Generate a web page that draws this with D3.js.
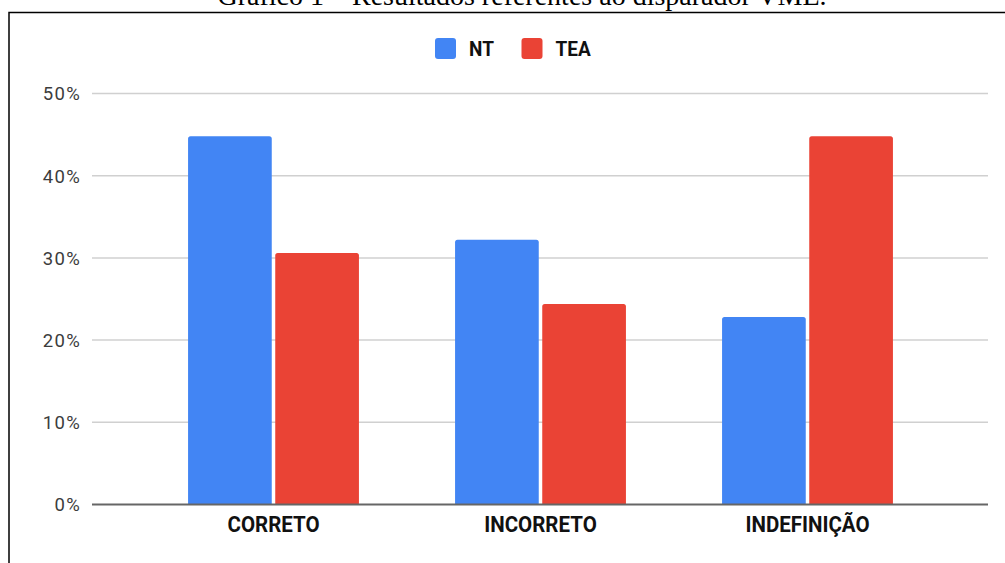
<!DOCTYPE html>
<html>
<head>
<meta charset="utf-8">
<script src="https://cdn.jsdelivr.net/npm/d3@7"></script>
<style>
  html, body { margin: 0; padding: 0; background: #fff; }
  svg { display: block; }
</style>
</head>
<body>
<svg id="chart" width="1005" height="563"></svg>
<script>
const title = "Gráfico 1 – Resultados referentes ao disparador VME.";
const categories = ["CORRETO", "INCORRETO", "INDEFINIÇÃO"];
const seriesNames = ["NT", "TEA"];
const ntValues = [0.448, 0.322, 0.228];
const teaValues = [0.306, 0.244, 0.448];
const yTicks = [0, 0.1, 0.2, 0.3, 0.4, 0.5];
const colors = ["#4285F4", "#EA4335"];

const svg = d3.select("#chart");

// Title (cut off at the top in the reference)
svg.append("text")
  .attr("x", 522).attr("y", 5)
  .attr("text-anchor", "middle")
  .attr("font-family", "'Liberation Serif', 'Times New Roman', serif")
  .attr("font-size", 28)
  .attr("fill", "#000")
  .text(title);

// Frame
svg.append("rect")
  .attr("x", 9).attr("y", 12.5)
  .attr("width", 1100).attr("height", 700)
  .attr("fill", "none")
  .attr("stroke", "#000")
  .attr("stroke-width", 1.5);

const y = d3.scaleLinear().domain([0, 0.5]).range([504.5, 93.5]);
const x0 = d3.scaleBand().domain(categories).range([140, 941])
  .paddingInner(0.36).paddingOuter(0.18);
const x1 = d3.scaleBand().domain(seriesNames).range([0, x0.bandwidth()]).paddingInner(0.04);

const gridLeft = 92, gridRight = 988;

// Gridlines
svg.append("g").selectAll("line")
  .data(yTicks.filter(d => d > 0))
  .join("line")
  .attr("x1", gridLeft).attr("x2", gridRight)
  .attr("y1", d => y(d)).attr("y2", d => y(d))
  .attr("stroke", "#d0d0d0").attr("stroke-width", 1.5);

// Y axis labels
const yAxis = d3.axisLeft(y).tickValues(yTicks)
  .tickFormat(d3.format(".0%")).tickSize(0).tickPadding(0);
const yg = svg.append("g").attr("transform", `translate(81,0)`).call(yAxis);
yg.select(".domain").remove();
yg.selectAll("text")
  .attr("font-family", "Roboto, sans-serif")
  .attr("font-size", 18.5)
  .attr("letter-spacing", 1.3)
  .attr("fill", "#3c3c3c")
  .attr("dy", "0.35em");

// Bars
const rows = categories.map((c, i) => ({ cat: c, vals: [ntValues[i], teaValues[i]] }));
const groups = svg.append("g").selectAll("g")
  .data(rows).join("g")
  .attr("transform", d => `translate(${x0(d.cat)},0)`);

function topRounded(xp, yp, w, h, r) {
  r = Math.min(r, h);
  return `M${xp},${yp + h}V${yp + r}Q${xp},${yp} ${xp + r},${yp}H${xp + w - r}Q${xp + w},${yp} ${xp + w},${yp + r}V${yp + h}Z`;
}

groups.selectAll("path")
  .data(d => d.vals.map((v, j) => ({ s: seriesNames[j], v, j })))
  .join("path")
  .attr("d", d => topRounded(x1(d.s), y(d.v), x1.bandwidth(), y(0) - y(d.v), 2.5))
  .attr("fill", d => colors[d.j]);

// Baseline
svg.append("line")
  .attr("x1", gridLeft).attr("x2", gridRight)
  .attr("y1", y(0)).attr("y2", y(0))
  .attr("stroke", "#666").attr("stroke-width", 2);

// X axis labels
const xAxis = d3.axisBottom(x0).tickSize(0).tickPadding(0);
const xg = svg.append("g").attr("transform", `translate(0,${y(0)})`).call(xAxis);
xg.select(".domain").remove();
xg.selectAll("text")
  .attr("font-family", "Roboto, sans-serif")
  .attr("font-size", 20.5)
  .attr("font-weight", "bold")
  .attr("fill", "#111")
  .attr("dy", 0)
  .attr("y", 25.5)
  .attr("transform", "scale(1,1.08)");

// Legend
const legendItems = [
  { name: seriesNames[0], color: colors[0], x: 435 },
  { name: seriesNames[1], color: colors[1], x: 521.5 }
];
const lg = svg.append("g");
const li = lg.selectAll("g").data(legendItems).join("g")
  .attr("transform", d => `translate(${d.x},38)`);
li.append("rect")
  .attr("width", 21).attr("height", 21).attr("rx", 3)
  .attr("fill", d => d.color);
li.append("text")
  .attr("x", 34).attr("y", 16.8)
  .attr("font-family", "Roboto, sans-serif")
  .attr("font-size", 19)
  .attr("font-weight", "bold")
  .attr("fill", "#111")
  .attr("transform", "scale(1,1.1)")
  .style("transform-origin", "0 0")
  .text(d => d.name);
</script>
</body>
</html>
